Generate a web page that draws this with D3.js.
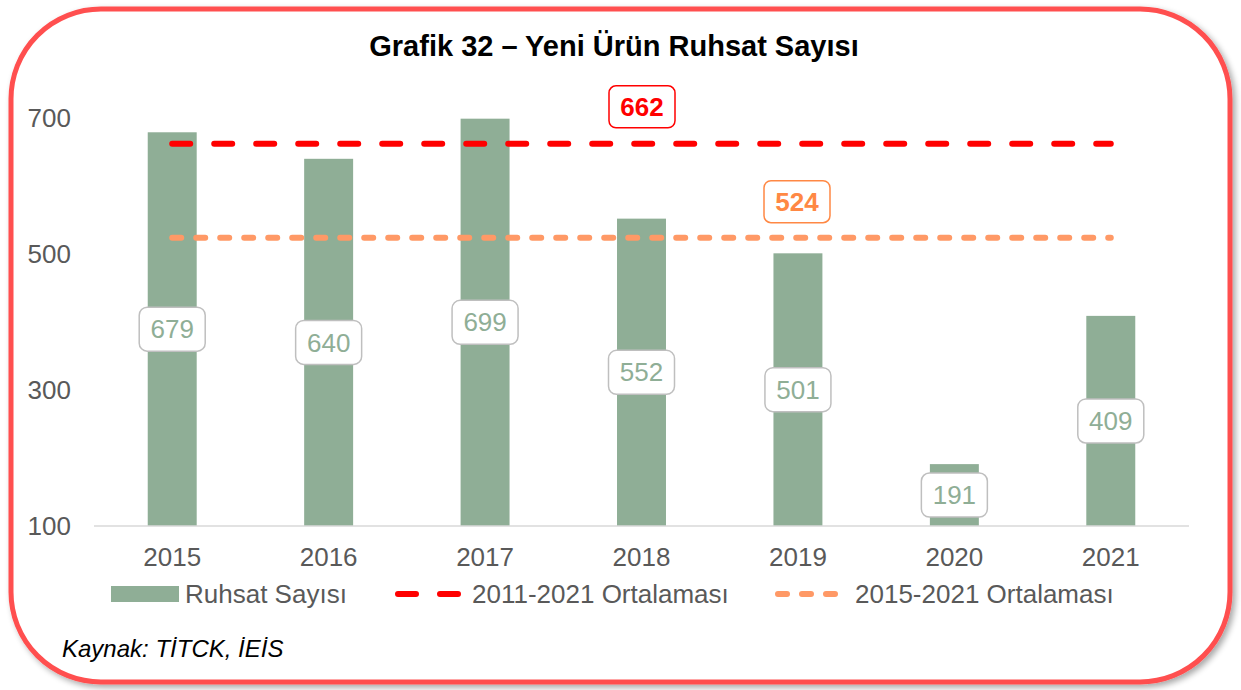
<!DOCTYPE html>
<html>
<head>
<meta charset="utf-8">
<script src="https://cdn.jsdelivr.net/npm/d3@7"></script>
<style>
  body { margin: 0; background: #fff; }
  svg { font-family: "Liberation Sans", Arial, sans-serif; }
</style>
</head>
<body>
<svg id="chart"></svg>
<script>
// chart data
const years = ["2015", "2016", "2017", "2018", "2019", "2020", "2021"];
const ruhsat = [679, 640, 699, 552, 501, 191, 409];
const avg2011 = 662;
const avg2015 = 524;
const yTicks = [100, 300, 500, 700];
const legendLabels = ["Ruhsat Sayısı", "2011-2021 Ortalaması", "2015-2021 Ortalaması"];

const W = 1241, H = 690;
const barColor = "#8FAE96";
const redColor = "#FF0000";
const orangeColor = "#FF9966";
const textGray = "#595959";

const svg = d3.select("#chart").attr("width", W).attr("height", H);

const defs = svg.append("defs");
const f = defs.append("filter").attr("id", "shadow")
  .attr("x", "-5%").attr("y", "-5%").attr("width", "110%").attr("height", "110%");
f.append("feGaussianBlur").attr("in", "SourceAlpha").attr("stdDeviation", 3);
f.append("feOffset").attr("dx", 3).attr("dy", 3).attr("result", "ob");
f.append("feComponentTransfer").append("feFuncA").attr("type", "linear").attr("slope", 0.35);
const fm = f.append("feMerge");
fm.append("feMergeNode");
fm.append("feMergeNode").attr("in", "SourceGraphic");

// frame
svg.append("rect")
  .attr("x", 11).attr("y", 9)
  .attr("width", 1219).attr("height", 673)
  .attr("rx", 90).attr("ry", 90)
  .attr("fill", "#fff")
  .attr("stroke", "#FF4F4F")
  .attr("stroke-width", 5)
  .attr("filter", "url(#shadow)");

// title
svg.append("text")
  .attr("x", 614).attr("y", 56)
  .attr("text-anchor", "middle")
  .attr("font-size", 29).attr("font-weight", "bold")
  .attr("fill", "#000")
  .text("Grafik 32 – Yeni Ürün Ruhsat Sayısı");

// scales
const x = d3.scaleBand()
  .domain(years)
  .range([94, 1189])
  .paddingInner(0.687)
  .paddingOuter(0.3435);

const y = d3.scaleLinear()
  .domain([100, 700])
  .range([526, 118]);

// y tick labels
svg.append("g").selectAll("text")
  .data(yTicks)
  .join("text")
  .attr("x", 71).attr("y", d => y(d))
  .attr("dy", "0.35em")
  .attr("text-anchor", "end")
  .attr("font-size", 26)
  .attr("fill", textGray)
  .text(d => d);

// bars
svg.append("g").selectAll("rect")
  .data(ruhsat)
  .join("rect")
  .attr("x", (d, i) => x(years[i]))
  .attr("y", d => y(d))
  .attr("width", x.bandwidth())
  .attr("height", d => y(100) - y(d))
  .attr("fill", barColor);

// x axis baseline
svg.append("line")
  .attr("x1", 94).attr("x2", 1189)
  .attr("y1", y(100)).attr("y2", y(100))
  .attr("stroke", "#D9D9D9").attr("stroke-width", 1.5);

// x labels
svg.append("g").selectAll("text")
  .data(years)
  .join("text")
  .attr("x", d => x(d) + x.bandwidth() / 2)
  .attr("y", 566)
  .attr("text-anchor", "middle")
  .attr("font-size", 26)
  .attr("fill", textGray)
  .text(d => d);

// average lines
const xFirst = x(years[0]) + x.bandwidth() / 2;
const xLast = x(years[years.length - 1]) + x.bandwidth() / 2;

svg.append("line")
  .attr("x1", xFirst).attr("x2", xLast)
  .attr("y1", y(avg2015)).attr("y2", y(avg2015))
  .attr("stroke", orangeColor).attr("stroke-width", 6)
  .attr("stroke-linecap", "round")
  .attr("stroke-dasharray", "9 15");

svg.append("line")
  .attr("x1", xFirst).attr("x2", xLast)
  .attr("y1", y(avg2011)).attr("y2", y(avg2011))
  .attr("stroke", redColor).attr("stroke-width", 6)
  .attr("stroke-linecap", "round")
  .attr("stroke-dasharray", "18 24");

// bar value labels
const lbl = svg.append("g").selectAll("g")
  .data(ruhsat)
  .join("g")
  .attr("transform", (d, i) => `translate(${x(years[i]) + x.bandwidth() / 2},${(y(d) + y(100)) / 2})`);

lbl.append("rect")
  .attr("x", -33).attr("y", -22)
  .attr("width", 66).attr("height", 44)
  .attr("rx", 8)
  .attr("fill", "#fff")
  .attr("stroke", "#BFBFBF").attr("stroke-width", 1.5);

lbl.append("text")
  .attr("text-anchor", "middle")
  .attr("dy", "0.35em")
  .attr("font-size", 26)
  .attr("fill", barColor)
  .text(d => d);

// average labels
function avgLabel(cx, cy, val, color) {
  const g = svg.append("g").attr("transform", `translate(${cx},${cy})`);
  g.append("rect")
    .attr("x", -33).attr("y", -21)
    .attr("width", 66).attr("height", 42)
    .attr("rx", 7)
    .attr("fill", "#fff")
    .attr("stroke", color).attr("stroke-width", 1.5);
  g.append("text")
    .attr("text-anchor", "middle")
    .attr("dy", "0.35em")
    .attr("font-size", 26).attr("font-weight", "bold")
    .attr("fill", color)
    .text(val);
}
avgLabel(642, y(avg2011) - 37, avg2011, redColor);
avgLabel(797, y(avg2015) - 36, avg2015, "#FF8844");

// legend
const leg = svg.append("g").attr("font-size", 26).attr("fill", textGray);
leg.append("rect")
  .attr("x", 111).attr("y", 586).attr("width", 68).attr("height", 16)
  .attr("fill", barColor);
leg.append("text").attr("x", 185).attr("y", 603).text(legendLabels[0]);

leg.append("line")
  .attr("x1", 398).attr("x2", 462).attr("y1", 594).attr("y2", 594)
  .attr("stroke", redColor).attr("stroke-width", 6)
  .attr("stroke-linecap", "round")
  .attr("stroke-dasharray", "18 24");
leg.append("text").attr("x", 472).attr("y", 603).text(legendLabels[1]);

leg.append("line")
  .attr("x1", 778).attr("x2", 843).attr("y1", 594).attr("y2", 594)
  .attr("stroke", orangeColor).attr("stroke-width", 6)
  .attr("stroke-linecap", "round")
  .attr("stroke-dasharray", "9 15");
leg.append("text").attr("x", 855).attr("y", 603).text(legendLabels[2]);

// source
svg.append("text")
  .attr("x", 62).attr("y", 657)
  .attr("font-size", 24).attr("font-style", "italic")
  .attr("fill", "#000")
  .text("Kaynak: TİTCK, İEİS");
</script>
</body>
</html>
